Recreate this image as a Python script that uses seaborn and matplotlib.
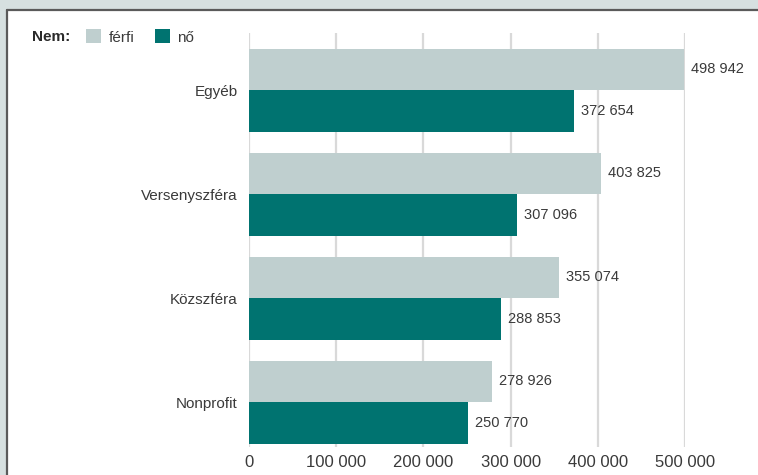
import matplotlib
matplotlib.use("Agg")
import matplotlib.pyplot as plt
import seaborn as sns
import pandas as pd
from matplotlib.lines import Line2D
from matplotlib.patches import Rectangle
from matplotlib.ticker import FuncFormatter

categories = ["Egyéb", "Versenyszféra", "Közszféra", "Nonprofit"]
ferfi = [498942, 403825, 355074, 278926]
no = [372654, 307096, 288853, 250770]
series_names = ["férfi", "nő"]
xticks = [0, 100000, 200000, 300000, 400000, 500000]

df = pd.DataFrame({
    "Kategória": categories * 2,
    "Nem": [series_names[0]] * 4 + [series_names[1]] * 4,
    "Érték": ferfi + no,
})

sns.set_theme(style="white")
plt.rcParams["font.family"] = ["Liberation Sans Narrow", "Liberation Sans", "DejaVu Sans"]

W, H = 758, 475
fig = plt.figure(figsize=(W / 100, H / 100), dpi=100)
fig.patch.set_facecolor("#d6e0e0")

# white panel with dark top/left border
fig.add_artist(Rectangle((7 / W, 0), 1, 1 - 10 / H, transform=fig.transFigure,
                         facecolor="white", edgecolor="none", zorder=0))
fig.add_artist(Line2D([7 / W, 1], [1 - 10 / H, 1 - 10 / H], transform=fig.transFigure,
                      color="#5a5a5a", lw=1.6, zorder=1))
fig.add_artist(Line2D([7 / W, 7 / W], [0, 1 - 10 / H], transform=fig.transFigure,
                      color="#5a5a5a", lw=1.6, zorder=1))

left, right = 249 / W, 685 / W
top, bottom = 1 - 33 / H, 1 - 447 / H
ax = fig.add_axes([left, bottom, right - left, top - bottom])
ax.set_facecolor("none")

palette = {"férfi": "#bfcfcf", "nő": "#007370"}
sns.barplot(data=df, y="Kategória", x="Érték", hue="Nem", order=categories,
            hue_order=series_names, palette=palette, orient="h", width=0.8,
            saturation=1, dodge=True, ax=ax, legend=False, zorder=3, linewidth=0)

fmt = lambda v: f"{v:,.0f}".replace(",", " ")
for cont in ax.containers:
    ax.bar_label(cont, labels=[fmt(v) for v in cont.datavalues], padding=5,
                 fontsize=10.5, color="#3a3a3a", clip_on=False)

ax.set_xlim(0, 500000)
ax.set_ylim(3.43, -0.55)
ax.set_xticks(xticks)
ax.xaxis.set_major_formatter(FuncFormatter(lambda v, p: fmt(v)))
ax.grid(axis="x", color="#d9d9d9", lw=1.6, zorder=0)
ax.set_axisbelow(True)
for s in ax.spines.values():
    s.set_visible(False)
ax.tick_params(axis="x", length=0, pad=6, labelsize=12, labelcolor="#3a3a3a")
ax.tick_params(axis="y", length=0, pad=8, labelsize=11, labelcolor="#3a3a3a")
ax.set_xlabel("")
ax.set_ylabel("")

# legend
fig.text(32 / W, 1 - 37 / H, "Nem:", fontsize=11, fontweight="bold",
         color="#2a2a2a", va="center", ha="left")
handles = [Rectangle((0, 0), 1, 1, facecolor=palette[n], edgecolor="none") for n in series_names]
fig.legend(handles, series_names, loc="center left", bbox_to_anchor=(86 / W, 1 - 37 / H),
           ncol=2, frameon=False, fontsize=11, handlelength=1.0, handleheight=1.0,
           handletextpad=0.5, columnspacing=1.3, labelcolor="#3a3a3a", borderaxespad=0,
           borderpad=0)

fig.savefig("out.png", dpi=100)
